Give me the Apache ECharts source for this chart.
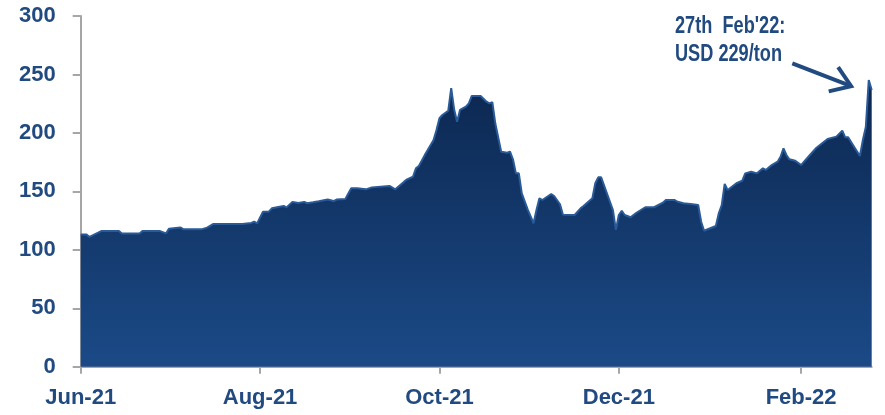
<!DOCTYPE html>
<html>
<head>
<meta charset="utf-8">
<script src="https://cdn.jsdelivr.net/npm/echarts@6/dist/echarts.min.js"></script>
<style>
html,body{margin:0;padding:0;background:#fff;}
#c{width:885px;height:415px;}
</style>
</head>
<body>
<div id="c"></div>
<script>
// ---- data ----
const dates = [
'2021-06-01','2021-06-03','2021-06-04','2021-06-08','2021-06-14','2021-06-15','2021-06-21','2021-06-22','2021-06-28','2021-06-30',
'2021-07-01','2021-07-05','2021-07-06','2021-07-12','2021-07-14','2021-07-16','2021-07-26','2021-07-29','2021-07-30','2021-07-31',
'2021-08-02','2021-08-04','2021-08-05','2021-08-09','2021-08-10','2021-08-12','2021-08-14','2021-08-16','2021-08-17','2021-08-19',
'2021-08-21','2021-08-24','2021-08-26','2021-08-27','2021-08-30','2021-09-01','2021-09-03','2021-09-06','2021-09-08','2021-09-14',
'2021-09-16','2021-09-19','2021-09-20','2021-09-22','2021-09-23','2021-09-24','2021-09-26','2021-09-28','2021-09-29','2021-09-30',
'2021-10-01','2021-10-02','2021-10-04','2021-10-05','2021-10-06','2021-10-07','2021-10-08','2021-10-10','2021-10-11','2021-10-12',
'2021-10-15','2021-10-17','2021-10-18','2021-10-19','2021-10-20','2021-10-22','2021-10-24','2021-10-25','2021-10-26','2021-10-27',
'2021-10-28','2021-10-29','2021-10-31','2021-11-02','2021-11-03','2021-11-04','2021-11-05','2021-11-08','2021-11-09','2021-11-11',
'2021-11-12','2021-11-16','2021-11-18','2021-11-19','2021-11-22','2021-11-23','2021-11-24','2021-11-25','2021-11-26','2021-11-29',
'2021-11-30','2021-12-01','2021-12-02','2021-12-03','2021-12-05','2021-12-07','2021-12-10','2021-12-13','2021-12-16','2021-12-17',
'2021-12-20','2021-12-21','2021-12-23','2021-12-26','2021-12-28','2021-12-29','2021-12-30','2022-01-03','2022-01-04','2022-01-05',
'2022-01-06','2022-01-07','2022-01-10','2022-01-12','2022-01-13','2022-01-15','2022-01-17','2022-01-19','2022-01-20','2022-01-22',
'2022-01-24','2022-01-25','2022-01-26','2022-01-27','2022-01-28','2022-01-30','2022-02-01','2022-02-02','2022-02-04','2022-02-06',
'2022-02-10','2022-02-13','2022-02-15','2022-02-16','2022-02-17','2022-02-19','2022-02-21','2022-02-22','2022-02-23','2022-02-24',
'2022-02-25'
];
const prices = [
113,113,111,116,116,114,114,116,116,114,
118,119,117.5,117.5,119,122,122,123,124,122.6,
132.6,132.6,135.5,137.5,136.3,141,140,141,139.8,140.6,
141.5,143,141.7,143,143.4,152.6,152.6,151.7,153.4,154.6,
151.7,158.3,160.3,162.5,169.7,171.7,181,189.6,193.9,202.5,
212.5,215.3,219,238.2,220,209.6,219.6,222.4,225.3,231.6,
231.6,226.7,225.3,226.2,208,183.9,183,183.9,177.4,165.4,
165.4,148.3,134.6,122.7,134,144,142.6,147.7,146,139,
130,129.8,135.5,137.5,144,156.9,162,162,155,134,
117,129.8,133.4,129.8,127.8,131.7,136.4,136.4,140.3,142.6,
142.6,141.1,139.8,138.9,138.3,124,116.3,120.4,131.2,138.3,
156.3,151.2,156.9,159.1,165.4,166.8,165.4,169.7,168.3,172.5,
175.4,179.6,186.8,181.1,177.4,176.2,172.5,175.4,181.1,186.8,
194.8,196.8,201.9,196.2,196.2,188.2,180.2,193.9,205,245.3,
236.7
];
const tickDates = ['2021-06-01','2021-08-01','2021-10-01','2021-12-01','2022-02-01'];
const tickLabels = ['Jun-21','Aug-21','Oct-21','Dec-21','Feb-22'];
const yTicks = [0, 50, 100, 150, 200, 250, 300];
const axisStart = '2021-06-01';
const axisEnd = '2022-02-25';
const noteLines = ["27th  Feb'22:", 'USD 229/ton'];

function toTs(s){ const p = s.split('-').map(Number); return Date.UTC(p[0], p[1]-1, p[2]); }
const tickTs = tickDates.map(toTs);
const seriesData = dates.map((d,i)=>[toTs(d), prices[i]]);

const TXT = '#214a80';
const FONT = "'Liberation Sans Narrow','Arial Narrow','Liberation Sans',Arial,sans-serif";

const chart = echarts.init(document.getElementById('c'), null, {renderer:'canvas'});
chart.setOption({
  animation:false,
  backgroundColor:'#ffffff',
  grid:{left:80.7, right:13.3, top:16, bottom:48.3, containLabel:false},
  xAxis:{
    type:'value',
    min:toTs(axisStart), max:toTs(axisEnd),
    axisLine:{show:true, lineStyle:{color:'#a6a6a6', width:2}},
    axisTick:{show:true, length:7, lineStyle:{color:'#a6a6a6', width:2}, customValues:tickTs},
    axisLabel:{
      customValues:tickTs, showMinLabel:true, showMaxLabel:true,
      color:TXT, fontFamily:FONT, fontWeight:'bold', fontSize:22, margin:20,
      formatter:function(v){ let best=0; for(let i=1;i<tickTs.length;i++){ if(Math.abs(tickTs[i]-v)<Math.abs(tickTs[best]-v)) best=i; } return tickLabels[best]; }
    },
    splitLine:{show:false}
  },
  yAxis:{
    type:'value', min:yTicks[0], max:yTicks[yTicks.length-1], interval:50,
    axisLine:{show:true, lineStyle:{color:'#a6a6a6', width:2}},
    axisTick:{show:true, inside:false, length:8, lineStyle:{color:'#a6a6a6', width:2}},
    axisLabel:{color:TXT, fontFamily:FONT, fontWeight:'bold', fontSize:22, margin:25},
    splitLine:{show:false}
  },
  series:[{
    type:'line', data:seriesData, symbol:'none', smooth:false,
    lineStyle:{color:'#2a5a98', width:2},
    areaStyle:{opacity:1, color:new echarts.graphic.LinearGradient(0,0,0,1,[
      {offset:0, color:'#0c2750'},{offset:1, color:'#1b4a87'}])},
    z:2
  }]
});

// annotation anchored near the last peak
const arrowStart = chart.convertToPixel({gridIndex:0}, [toTs('2022-01-29'), 259.5]);
const arrowEnd = chart.convertToPixel({gridIndex:0}, [toTs('2022-02-18'), 240]);
const dx = arrowEnd[0]-arrowStart[0], dy = arrowEnd[1]-arrowStart[1];
const ang = Math.atan2(dy, dx), hl = 23;
const h1 = [arrowEnd[0]-hl*Math.cos(ang-0.6), arrowEnd[1]-hl*Math.sin(ang-0.6)];
const h2 = [arrowEnd[0]-hl*Math.cos(ang+0.6), arrowEnd[1]-hl*Math.sin(ang+0.6)];
chart.setOption({
  graphic:[
    {type:'text', x:675, y:13, scaleX:0.79, style:{text:noteLines.join('\n'), fill:TXT, font:"bold 23px "+FONT, lineHeight:28, verticalAlign:'top', align:'left'}},
    {type:'polyline', shape:{points:[arrowStart, arrowEnd]}, style:{stroke:TXT, lineWidth:4, fill:null}},
    {type:'polyline', shape:{points:[h1, arrowEnd, h2]}, style:{stroke:TXT, lineWidth:4, fill:null, lineJoin:'miter'}}
  ]
});
</script>
</body>
</html>
